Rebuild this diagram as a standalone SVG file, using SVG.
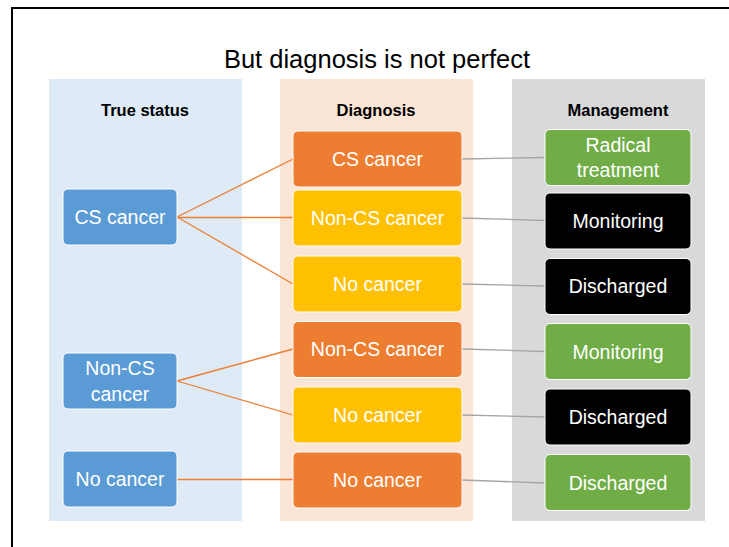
<svg xmlns="http://www.w3.org/2000/svg" width="729" height="547" viewBox="0 0 729 547">
  <style>
    text { font-family: "Liberation Sans", Arial, sans-serif; }
    .title { font-size: 25.5px; fill: #000; text-anchor: middle; }
    .head { font-size: 16.5px; font-weight: bold; fill: #000; text-anchor: middle; }
    .lbl { font-size: 19.5px; fill: #fff; text-anchor: middle; dominant-baseline: central; }
    .node rect { stroke: #fff; stroke-width: 1; }
    .blue rect { fill: #5B9BD5; }
    .orange rect { fill: #ED7D31; }
    .yellow rect { fill: #FFC000; }
    .green rect { fill: #70AD47; }
    .black rect { fill: #000; }
    .c-in { stroke: #ED7D31; stroke-width: 1.3; fill: none; }
    .c-out { stroke: #A5A5A5; stroke-width: 1.3; fill: none; }
  </style>

  <rect width="729" height="547" fill="#fff"/>
  <!-- slide frame -->
  <path d="M12 547 V8 H729" fill="none" stroke="#000" stroke-width="2"/>

  <text class="title" x="377" y="68">But diagnosis is not perfect</text>

  <!-- column panels -->
  <rect x="49" y="79" width="193" height="442" fill="#DEEBF7"/>
  <rect x="280" y="79" width="193" height="442" fill="#FBE5D6"/>
  <rect x="512" y="79" width="193" height="442" fill="#D9D9D9"/>

  <text class="head" x="145" y="116">True status</text>
  <text class="head" x="376" y="116">Diagnosis</text>
  <text class="head" x="618" y="116">Management</text>

  <!-- connectors -->
  <g id="connectors">
    <line class="c-in" x1="177" y1="217" x2="293" y2="159"/>
    <line class="c-in" x1="177" y1="217.5" x2="293" y2="217.5"/>
    <line class="c-in" x1="177" y1="217" x2="293" y2="284"/>
    <line class="c-in" x1="177" y1="381" x2="293" y2="349"/>
    <line class="c-in" x1="177" y1="381" x2="293" y2="415"/>
    <line class="c-in" x1="177" y1="479.5" x2="293" y2="479.5"/>
    <line class="c-out" x1="462" y1="159" x2="545" y2="157.5"/>
    <line class="c-out" x1="462" y1="218" x2="545" y2="220.5"/>
    <line class="c-out" x1="462" y1="284" x2="545" y2="286"/>
    <line class="c-out" x1="462" y1="349" x2="545" y2="351.5"/>
    <line class="c-out" x1="462" y1="415" x2="545" y2="417"/>
    <line class="c-out" x1="462" y1="480" x2="545" y2="483"/>
  </g>

  <!-- true status -->
  <g id="ts-cs" class="node blue">
    <rect x="63" y="189" width="114" height="56" rx="5"/>
    <text class="lbl" x="120" y="217">CS cancer</text>
  </g>
  <g id="ts-noncs" class="node blue">
    <rect x="63" y="353" width="114" height="56" rx="5"/>
    <text class="lbl" x="120" y="368">Non-CS</text>
    <text class="lbl" x="120" y="394">cancer</text>
  </g>
  <g id="ts-none" class="node blue">
    <rect x="63" y="451" width="114" height="56" rx="5"/>
    <text class="lbl" x="120" y="479">No cancer</text>
  </g>

  <!-- diagnosis -->
  <g id="dx-cs" class="node orange">
    <rect x="293" y="131" width="169" height="56" rx="5"/>
    <text class="lbl" x="377.5" y="159">CS cancer</text>
  </g>
  <g id="dx-noncs-1" class="node yellow">
    <rect x="293" y="190" width="169" height="56" rx="5"/>
    <text class="lbl" x="377.5" y="218">Non-CS cancer</text>
  </g>
  <g id="dx-none-1" class="node yellow">
    <rect x="293" y="256" width="169" height="56" rx="5"/>
    <text class="lbl" x="377.5" y="284">No cancer</text>
  </g>
  <g id="dx-noncs-2" class="node orange">
    <rect x="293" y="321.5" width="169" height="56" rx="5"/>
    <text class="lbl" x="377.5" y="349">Non-CS cancer</text>
  </g>
  <g id="dx-none-2" class="node yellow">
    <rect x="293" y="387" width="169" height="56" rx="5"/>
    <text class="lbl" x="377.5" y="415">No cancer</text>
  </g>
  <g id="dx-none-3" class="node orange">
    <rect x="293" y="452" width="169" height="56" rx="5"/>
    <text class="lbl" x="377.5" y="480">No cancer</text>
  </g>

  <!-- management -->
  <g id="mg-radical" class="node green">
    <rect x="545" y="129.5" width="146" height="56" rx="5"/>
    <text class="lbl" x="618" y="145">Radical</text>
    <text class="lbl" x="618" y="170">treatment</text>
  </g>
  <g id="mg-monitor-1" class="node black">
    <rect x="545" y="193" width="146" height="56" rx="5"/>
    <text class="lbl" x="618" y="221">Monitoring</text>
  </g>
  <g id="mg-discharge-1" class="node black">
    <rect x="545" y="258.5" width="146" height="56" rx="5"/>
    <text class="lbl" x="618" y="286">Discharged</text>
  </g>
  <g id="mg-monitor-2" class="node green">
    <rect x="545" y="323.5" width="146" height="56" rx="5"/>
    <text class="lbl" x="618" y="351.5">Monitoring</text>
  </g>
  <g id="mg-discharge-2" class="node black">
    <rect x="545" y="389" width="146" height="56" rx="5"/>
    <text class="lbl" x="618" y="417">Discharged</text>
  </g>
  <g id="mg-discharge-3" class="node green">
    <rect x="545" y="454.5" width="146" height="56" rx="5"/>
    <text class="lbl" x="618" y="483">Discharged</text>
  </g>
</svg>
